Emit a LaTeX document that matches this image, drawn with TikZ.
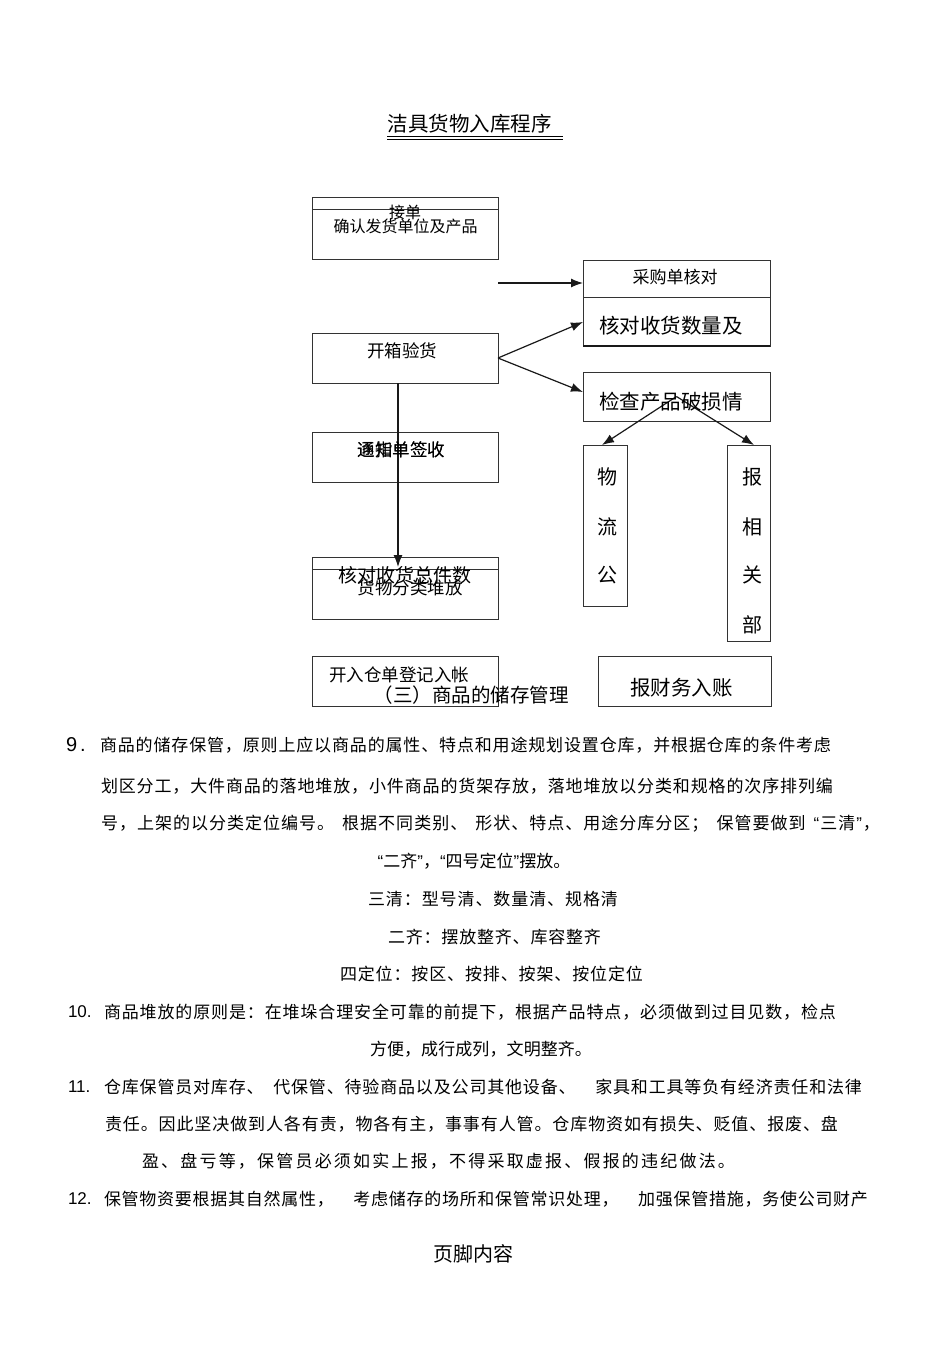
\documentclass[tikz,border=0pt]{standalone}
\usepackage{fontspec}
\setmainfont{Noto Sans CJK SC}
\newfontfamily\latinf{Liberation Sans}
\usetikzlibrary{arrows.meta}
\newcommand\fs[1]{\fontsize{#1}{#1}\selectfont}
\newcommand\qL{{\latinf “}}
\newcommand\qR{{\latinf ”}}
\ExplSyntaxOn
\NewDocumentCommand\spr{m m}{\hbox_to_wd:nn {#1} { \tl_map_inline:nn {#2} { ##1 \hfil } \unskip }}
\ExplSyntaxOff
\newcommand\pline[4]{\node[txt,anchor=west] at (#1,#2) {\fs{17}\spr{#3pt}{#4}};}
\newcommand\cenline[4]{\node[txt] at (#1,#2) {\fs{17}\spr{#3pt}{#4}};}
\begin{document}
\begin{tikzpicture}[x=1pt,y=-1pt,
  box/.style={draw=black!80, line width=0.9pt, inner sep=0pt, outer sep=0pt},
  txt/.style={inner sep=0pt, outer sep=0pt},
  arr/.style={-{Latex[length=12pt,width=9pt]}, line width=1.2pt, draw=black!90}]
\useasboundingbox[fill=white] (0,0) rectangle (950,1345);

% title
\node[txt] (title) at (469.5,124) {\fs{20.5}洁具货物入库程序};
\draw[line width=0.6pt] (387,136) -- (563,136);
\draw[line width=0.6pt] (387,139) -- (563,139);

% boxes
\node[box, minimum width=186pt, minimum height=62pt] (A) at (405,228) {};
\node[box, minimum width=187pt, minimum height=86pt] (B) at (676.5,303) {};
\node[box, minimum width=186pt, minimum height=50pt] (C) at (405,358) {};
\node[box, minimum width=187pt, minimum height=49pt] (D) at (676.5,396.5) {};
\node[box, minimum width=186pt, minimum height=50pt] (E) at (405,457) {};
\node[box, minimum width=186pt, minimum height=62pt] (F) at (405,588) {};
\node[box, minimum width=44pt, minimum height=161pt] (G) at (605,525.5) {};
\node[box, minimum width=43pt, minimum height=196pt] (H) at (748.5,543) {};
\node[box, minimum width=186pt, minimum height=50pt] (I) at (405,681) {};
\node[box, minimum width=173pt, minimum height=50pt] (J) at (684.5,681) {};

\draw[black!80, line width=0.9pt] (A.north west) ++(0,12) -- ++(186,0);
\draw[black!80, line width=0.9pt] (B.north west) ++(0,37) -- ++(187,0);
\draw[black!90, line width=1.8pt] (B.south west) -- (B.south east);
\draw[black!80, line width=0.9pt] (F.north west) ++(0,12) -- ++(186,0);

% connectors
\coordinate (s0) at (498,283);
\draw[arr] (s0) -- ([yshift=20pt]B.west);
\draw[arr] (C.east) -- ([yshift=-19pt]B.west);
\draw[arr] (C.east) -- ([yshift=4.5pt]D.west);
\draw[arr] (D.center) -- ([xshift=-3pt]G.north);
\draw[arr] (D.center) -- ([xshift=5.5pt]H.north);
\draw[arr] ([xshift=-7pt]C.south) -- ([xshift=-7pt,yshift=-10pt]F.north);

% box texts
\node[txt] (tA1) at (405,212) {\fs{16}接单};
\node[txt] (tA2) at (405.5,226) {\fs{16}确认发货单位及产品};
\node[txt] (tB1) at (675,277) {\fs{17}采购单核对};
\node[txt] (tB2) at (671,326) {\fs{20.5}核对收货数量及};
\node[txt] (tC) at (402,351) {\fs{17.5}开箱验货};
\node[txt] (tD) at (671,402) {\fs{20.5}检查产品破损情};
\node[txt] (tE1) at (401.5,450) {\fs{17.5}通知单签收};
\node[txt] (tE2) at (401.5,450) {\fs{17.5}逐指单签收};
\node[txt] (tF1) at (405,575) {\fs{19}核对收货总件数};
\node[txt] (tF2) at (410,588) {\fs{17.5}货物分类堆放};
\node[txt] (tG1) at (607,477) {\fs{20}物};
\node[txt] (tG2) at (607,527) {\fs{20}流};
\node[txt] (tG3) at (607,575) {\fs{20}公};
\node[txt] (tH1) at (752,477) {\fs{20}报};
\node[txt] (tH2) at (752,527) {\fs{20}相};
\node[txt] (tH3) at (752,575) {\fs{20}关};
\node[txt] (tH4) at (752,625) {\fs{20}部};
\node[txt] (tI) at (399,675) {\fs{17.5}开入仓单登记入帐};
\node[txt] (sec) at (471,695) {\fs{19.5}（三）商品的储存管理};
\node[txt] (tJ) at (681.5,688) {\fs{20.5}报财务入账};

% body text
\node[txt,anchor=west] (n9) at (66,745) {\latinf\fs{20}9\hspace{3pt}.};
\pline{100}{745}{731}{商品的储存保管，原则上应以商品的属性、特点和用途规划设置仓库，并根据仓库的条件考虑}
\pline{101}{786}{732}{划区分工，大件商品的落地堆放，小件商品的货架存放，落地堆放以分类和规格的次序排列编}
\pline{101}{824}{779}{号，上架的以分类定位编号。{\hspace{6pt}}根据不同类别、{\hspace{6pt}}形状、特点、用途分库分区；{\hspace{6pt}}保管要做到{\hspace{6pt}}\qL 三清\qR ，}
\node[txt] (l4) at (474,861) {\fs{17}\qL 二齐\qR ，\qL 四号定位\qR 摆放。};
\cenline{493}{899}{250}{三清：型号清、数量清、规格清}
\cenline{494.5}{937}{213}{二齐：摆放整齐、库容整齐}
\cenline{491.5}{974}{303}{四定位：按区、按排、按架、按位定位}
\node[txt,anchor=west] (n10) at (68,1012) {\latinf\fs{17}10.};
\pline{104}{1012}{732}{商品堆放的原则是：在堆垛合理安全可靠的前提下，根据产品特点，必须做到过目见数，检点}
\cenline{481}{1049}{222}{方便，成行成列，文明整齐。}
\node[txt,anchor=west] (n11) at (68,1087) {\latinf\fs{17}11.};
\pline{104}{1087}{758}{仓库保管员对库存、{\hspace{8pt}}代保管、待验商品以及公司其他设备、{\hspace{18pt}}家具和工具等负有经济责任和法律}
\pline{105}{1124}{733}{责任。因此坚决做到人各有责，物各有主，事事有人管。仓库物资如有损失、贬值、报废、盘}
\pline{142}{1161}{593}{盈、盘亏等，保管员必须如实上报，不得采取虚报、假报的违纪做法。}
\node[txt,anchor=west] (n12) at (68,1199) {\latinf\fs{17}12.};
\pline{104}{1199}{764}{保管物资要根据其自然属性，{\hspace{18pt}}考虑储存的场所和保管常识处理，{\hspace{18pt}}加强保管措施，务使公司财产}

% footer
\node[txt] (foot) at (473,1254) {\fs{20}页脚内容};
\end{tikzpicture}
\end{document}
